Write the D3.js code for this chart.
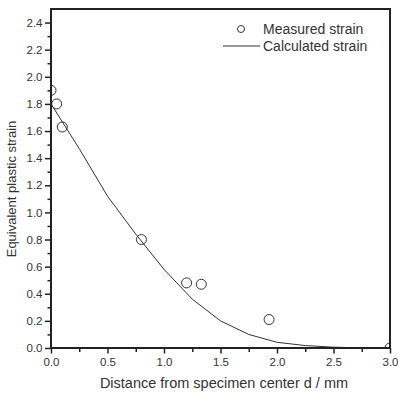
<!DOCTYPE html>
<html>
<head>
  <meta charset="utf-8">
  <style type="text/css">
    body { margin: 0; background-color: #fff; }
    svg { display: block; }
    .axis text { font: 11.5px "Liberation Sans", Arial, sans-serif; fill: #333; }
    .axis path, .axis line { stroke: #222; }
    .title { font: 14.5px "Liberation Sans", Arial, sans-serif; fill: #333; }
    .ytitle { font: 13px "Liberation Sans", Arial, sans-serif; fill: #333; }
    .legend text { font: 14px "Liberation Sans", Arial, sans-serif; fill: #333; }
  </style>
  <script src="https://d3js.org/d3.v7.min.js"></script>
</head>
<body>
<script>
// measured points
var measX = [0, 0.05, 0.1, 0.8, 1.2, 1.33, 1.93, 3.0];
var measY = [1.9, 1.8, 1.63, 0.8, 0.48, 0.47, 0.21, 0.0];

// calculated curve
var calcX = [0, 0.25, 0.5, 0.75, 1.0, 1.25, 1.5, 1.75, 2.0, 2.25, 2.5, 2.75, 3.0];
var calcY = [1.80, 1.47, 1.12, 0.84, 0.58, 0.36, 0.20, 0.10, 0.042, 0.018, 0.006, 0.001, 0];

var xTicks = [0, 0.5, 1.0, 1.5, 2.0, 2.5, 3.0];
var yTicks = [0, 0.2, 0.4, 0.6, 0.8, 1.0, 1.2, 1.4, 1.6, 1.8, 2.0, 2.2, 2.4];

var W = 398, H = 398;
var margin = {top: 9, right: 8, bottom: 50, left: 51};
var width = W - margin.left - margin.right;
var height = H - margin.top - margin.bottom;

var svg = d3.select("body").append("svg")
  .attr("width", W)
  .attr("height", H);

var chart = svg.append("g")
  .attr("transform", "translate(" + margin.left + "," + margin.top + ")");

var xscale = d3.scaleLinear().domain([0, 3]).range([0, width]);
var yscale = d3.scaleLinear().domain([0, 2.5]).range([height, 0]);

chart.append("clipPath").attr("id", "clip")
  .append("rect").attr("width", width).attr("height", height);

// minor ticks
chart.append("g")
  .attr("class", "axis")
  .attr("transform", "translate(0," + height + ")")
  .call(d3.axisBottom(xscale).tickValues(d3.range(0.25, 3, 0.5)).tickSize(4).tickFormat(""))
  .call(function(g) { g.select(".domain").remove(); });

chart.append("g")
  .attr("class", "axis")
  .call(d3.axisLeft(yscale).tickValues(d3.range(0.1, 2.5, 0.2)).tickSize(3.5).tickFormat(""))
  .call(function(g) { g.select(".domain").remove(); });

// major ticks
chart.append("g")
  .attr("class", "axis")
  .attr("transform", "translate(0," + height + ")")
  .call(d3.axisBottom(xscale).tickValues(xTicks).tickSize(5.5).tickPadding(4).tickFormat(d3.format(".1f")))
  .call(function(g) { g.select(".domain").remove(); });

chart.append("g")
  .attr("class", "axis")
  .call(d3.axisLeft(yscale).tickValues(yTicks).tickSize(6).tickPadding(2.5).tickFormat(d3.format(".1f")))
  .call(function(g) { g.select(".domain").remove(); });

chart.selectAll(".axis line").attr("stroke-width", 1.5);

// calculated line
var line = d3.line()
  .x(function(d, i) { return xscale(calcX[i]); })
  .y(function(d) { return yscale(d); })
  .curve(d3.curveLinear);

chart.append("path")
  .datum(calcY)
  .attr("d", line)
  .attr("fill", "none")
  .attr("stroke", "#333")
  .attr("stroke-width", 1);

// measured circles
chart.append("g").attr("clip-path", "url(#clip)")
  .selectAll("circle").data(measY).enter().append("circle")
  .attr("cx", function(d, i) { return xscale(measX[i]); })
  .attr("cy", function(d) { return yscale(d); })
  .attr("r", 5)
  .attr("fill", "none")
  .attr("stroke", "#333")
  .attr("stroke-width", 1);

// frame
chart.append("rect")
  .attr("width", width)
  .attr("height", height)
  .attr("fill", "none")
  .attr("stroke", "#222")
  .attr("stroke-width", 2);

// axis titles
svg.append("text")
  .attr("class", "title")
  .attr("x", 224)
  .attr("y", 388)
  .attr("text-anchor", "middle")
  .text("Distance from specimen center d / mm");

svg.append("text")
  .attr("class", "ytitle")
  .attr("transform", "translate(16," + 189 + ") rotate(-90)")
  .attr("text-anchor", "middle")
  .text("Equivalent plastic strain");

// legend
var legend = svg.append("g").attr("class", "legend");
legend.append("circle")
  .attr("cx", 241).attr("cy", 29).attr("r", 3.5)
  .attr("fill", "none").attr("stroke", "#333");
legend.append("text").attr("x", 263).attr("y", 34).text("Measured strain");
legend.append("line")
  .attr("x1", 223).attr("x2", 260).attr("y1", 46).attr("y2", 46)
  .attr("stroke", "#333");
legend.append("text").attr("x", 263).attr("y", 51).text("Calculated strain");
</script>
</body>
</html>
